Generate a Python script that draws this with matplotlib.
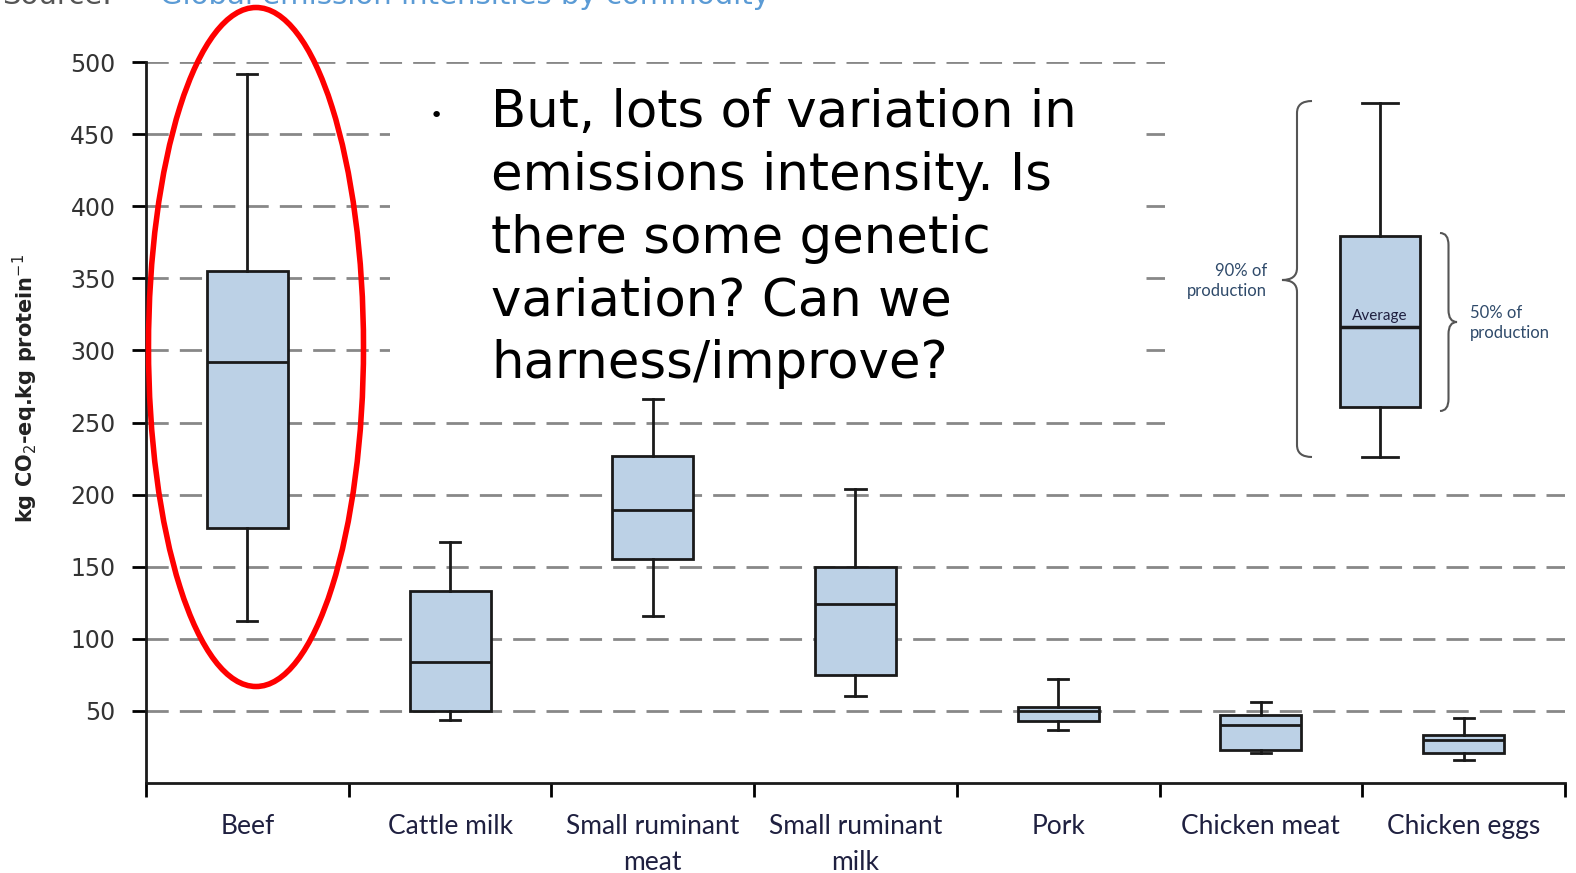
import matplotlib
matplotlib.use('Agg')
import matplotlib.pyplot as plt
from matplotlib.patches import Ellipse, Rectangle, PathPatch
from matplotlib.path import Path

# 各类产品的排放强度（kg CO2-eq / kg protein）
categories = ['Beef', 'Cattle milk', 'Small ruminant\nmeat', 'Small ruminant\nmilk',
              'Pork', 'Chicken meat', 'Chicken eggs']
whis_lo = [112, 44, 116, 60, 37, 21, 16]
q1 = [177, 50, 155, 75, 43, 23, 21]
median = [292, 84, 189, 124, 50, 40, 30]
q3 = [355, 133, 227, 150, 53, 47, 33]
whis_hi = [492, 167, 266, 204, 72, 56, 45]
yticks = [50, 100, 150, 200, 250, 300, 350, 400, 450, 500]

# 图例示意箱线（任意单位）
legend_box = dict(whislo=0, q1=14, med=36.5, q3=62, whishi=99.4)

W, H = 1576, 873
fig = plt.figure(figsize=(W / 100, H / 100), dpi=100)
fig.patch.set_facecolor('white')


def fx(px):
    return px / W


def fy(py):
    return 1 - py / H


ax = fig.add_axes([fx(146), fy(783), fx(1565) - fx(146), fy(62) - fy(783)])

stats = []
for i in range(len(categories)):
    stats.append(dict(whislo=whis_lo[i], q1=q1[i], med=median[i], q3=q3[i],
                      whishi=whis_hi[i], label=categories[i]))

pos = [i + 0.5 for i in range(len(categories))]
ax.bxp(stats, positions=pos, widths=0.4, showfliers=False, patch_artist=True,
       boxprops=dict(facecolor='#bcd1e6', edgecolor='#1a1a1a', linewidth=2),
       medianprops=dict(color='#1a1a1a', linewidth=2),
       whiskerprops=dict(color='#1a1a1a', linewidth=2),
       capprops=dict(color='#1a1a1a', linewidth=2),
       capwidths=0.1, zorder=3)

ax.set_xlim(0, 7)
ax.set_ylim(0, 500)
ax.set_yticks(yticks)
ax.set_yticklabels([str(v) for v in yticks], fontsize=17, color='#333333')
ax.tick_params(axis='y', length=10, width=2, pad=12, direction='out')
ax.set_xticks(range(8))
ax.set_xticklabels([''] * 8)
ax.tick_params(axis='x', which='major', length=10, width=2, direction='out')
ax.set_xticks(pos, minor=True)
ax.set_xticklabels(categories, minor=True, fontsize=19, color='#1f2040',
                   family='Lato', linespacing=1.55)
ax.tick_params(axis='x', which='minor', length=0, pad=22)

for s in ['top', 'right']:
    ax.spines[s].set_visible(False)
for s in ['left', 'bottom']:
    ax.spines[s].set_linewidth(2)
    ax.spines[s].set_color('#1a1a1a')

ax.set_axisbelow(True)
ax.yaxis.grid(True, color='#888888', linewidth=2, linestyle=(0, (8, 4)))

# 幻灯片上的文本框和图例遮挡了部分网格线
ax.add_patch(Rectangle((fx(390), fy(405)), fx(1137) - fx(390), fy(70) - fy(405),
                       transform=fig.transFigure, facecolor='white', edgecolor='none',
                       zorder=1))
ax.add_patch(Rectangle((fx(1165), fy(470)), fx(1576) - fx(1165), fy(0) - fy(470),
                       transform=fig.transFigure, facecolor='white', edgecolor='none',
                       zorder=1, clip_on=False))

# y轴标题
fig.text(fx(25), fy(388), 'kg CO$_2$-eq.kg protein$^{-1}$', rotation=90,
         ha='center', va='center', fontsize=15, fontweight='bold', color='#222222')

# 被裁掉一半的标题
fig.text(fx(2), fy(4), 'Source:', fontsize=21, color='#555555', va='baseline')
fig.text(fx(160), fy(4), 'Global emission intensities by commodity', fontsize=21,
         color='#5b9bd5', va='baseline')

# 红色椭圆
fig.patches.append(Ellipse((fx(256), fy(347)), fx(215), 679 / H, transform=fig.transFigure,
                           fill=False, edgecolor='#ff0000', linewidth=4, zorder=10))

# 要点文字
fig.text(fx(436), fy(116), '•', fontsize=16, color='black', ha='center', va='center')
fig.text(fx(491), fy(88), 'But, lots of variation in\nemissions intensity. Is\n'
         'there some genetic\nvariation? Can we\nharness/improve?',
         fontsize=37, color='black', va='top', ha='left', linespacing=1.33)

# 图例示意
lax = fig.add_axes([fx(1290), fy(470), fx(1470) - fx(1290), fy(90) - fy(470)])
lax.set_xlim(0, 1)
lax.set_ylim(-3.6, 103)
lax.axis('off')
lax.bxp([legend_box], positions=[0.5], widths=80 / 180, showfliers=False,
        patch_artist=True,
        boxprops=dict(facecolor='#bcd1e6', edgecolor='#1a1a1a', linewidth=2),
        medianprops=dict(color='#1a1a1a', linewidth=2.5),
        whiskerprops=dict(color='#1a1a1a', linewidth=2),
        capprops=dict(color='#1a1a1a', linewidth=2), capwidths=0.2)
lax.text(0.5, legend_box['med'] + 1, 'Average', ha='center', va='bottom', fontsize=11,
         color='#1f2040', family='Lato')


def brace(x_tip, x_end, y_top, y_bot, y_mid):
    xm = (x_tip + x_end) / 2
    d = 12
    verts = [(x_end, y_top), (xm, y_top), (xm, y_top + d),
             (xm, y_mid - d), (xm, y_mid), (x_tip, y_mid),
             (xm, y_mid), (xm, y_mid + d),
             (xm, y_bot - d), (xm, y_bot), (x_end, y_bot)]
    verts = [(fx(a), fy(b)) for a, b in verts]
    codes = [Path.MOVETO, Path.CURVE3, Path.CURVE3, Path.LINETO, Path.CURVE3, Path.CURVE3,
             Path.CURVE3, Path.CURVE3, Path.LINETO, Path.CURVE3, Path.CURVE3]
    fig.patches.append(PathPatch(Path(verts, codes), transform=fig.transFigure,
                                 fill=False, edgecolor='#555555', linewidth=1.5))


brace(1282, 1312, 101, 457, 280)
brace(1457, 1440, 233, 411, 322)
fig.text(fx(1267), fy(281), '90% of\nproduction', ha='right', va='center', fontsize=12,
         color='#2f4a6a', family='Lato', linespacing=1.3)
fig.text(fx(1470), fy(323), '50% of\nproduction', ha='left', va='center', fontsize=12,
         color='#2f4a6a', family='Lato', linespacing=1.3)

plt.savefig('out.png', dpi=100)
